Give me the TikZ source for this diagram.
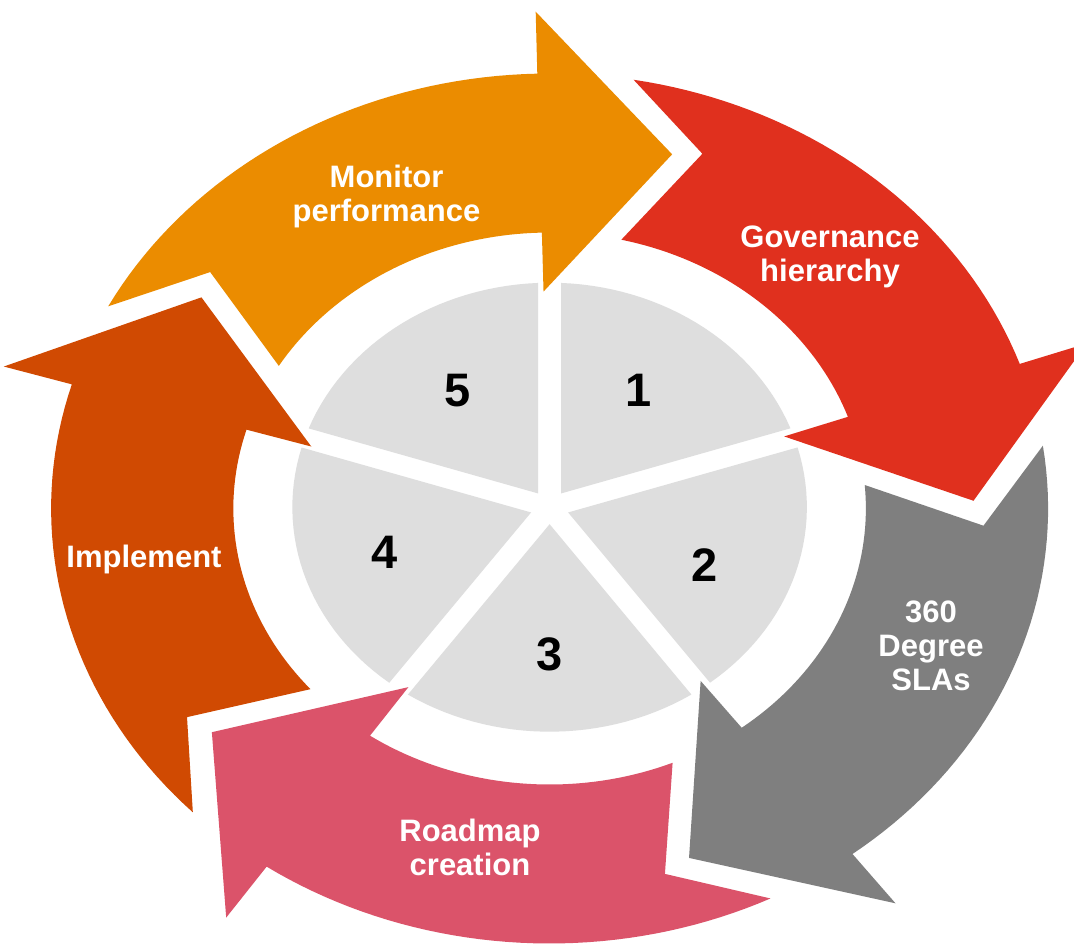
\documentclass[tikz,border=0pt]{standalone}
\usepackage{fontspec}
\newfontfamily\labelfont{Liberation Sans}

\definecolor{monitorcol}{HTML}{EB8C00}
\definecolor{governcol}{HTML}{E0301E}
\definecolor{slacol}{HTML}{7F7F7F}
\definecolor{roadmapcol}{HTML}{DB536A}
\definecolor{implementcol}{HTML}{D04A02}
\definecolor{piegray}{HTML}{DEDEDE}

% One curved arrow of the ring.
% #1 = angle of the head base, #2 = fill colour.
% The tail is notched to follow the head of the arrow before it.
\newcommand\ringarrow[2]{%
  \pgfmathsetmacro\aHead{#1}%
  \pgfmathsetmacro\aTip{#1-18.2}%
  \pgfmathsetmacro\aTo{#1+72-11.1}%
  \pgfmathsetmacro\aTn{#1+72-22.0}%
  \pgfmathsetmacro\aTi{#1+72-14.5}%
  \fill[#2] (\aTo:435)
    -- plot[domain=0:1, samples=40] ({\aTo+(\aHead-\aTo)*\x}:435)
    -- (\aHead:497) -- (\aTip:370) -- (\aHead:217)
    -- plot[domain=0:1, samples=40] ({\aHead+(\aTi-\aHead)*\x}:276)
    -- (\aTn:379) -- cycle;
}

% One slice of the central pie, #1 = angle of its leading gap.
\newcommand\piewedge[1]{%
  \fill[piegray] ({#1-36}:17)
    -- plot[domain=0:1, samples=30] ({#1-2.553-(72-5.106)*\x}:224.5)
    -- cycle;
}

\begin{document}
\begin{tikzpicture}[x=1pt, y=-1pt,
  steptext/.style={text=white, font=\labelfont\bfseries\fontsize{31}{34}\selectfont,
                   align=center, inner sep=0pt},
  numtext/.style={text=black, font=\labelfont\bfseries\fontsize{47}{47}\selectfont,
                  inner sep=0pt, anchor=base}]
  \useasboundingbox (0,0) rectangle (1074,946);
  \fill[white] (0,0) rectangle (1074,946);

  \coordinate (ringc) at (549.6,508.5);
  \coordinate (piec) at (549.6,507.2);

  % ring of five arrows, running clockwise
  \begin{scope}[shift={(ringc)}, x=1.146pt, y=1pt]
    \ringarrow{91.4}{monitorcol}
    \ringarrow{19.4}{governcol}
    \ringarrow{-52.6}{slacol}
    \ringarrow{-124.6}{roadmapcol}
    \ringarrow{-196.6}{implementcol}
  \end{scope}

  % central pie in five slices
  \begin{scope}[shift={(piec)}, x=1.146pt, y=1pt]
    \piewedge{90}
    \piewedge{18}
    \piewedge{-54}
    \piewedge{-126}
    \piewedge{162}
  \end{scope}

  % arrow captions
  \node[steptext] (monitor) at (386.5,196.4) {Monitor\\performance};
  \node[steptext] (govern) at (830,256.9) {Governance\\hierarchy};
  \node[steptext] (sla) at (931,646.2) {360\\Degree\\SLAs};
  \node[steptext, anchor=base] (implement) at (144,567.3) {Implement};
  \node[steptext] (roadmap) at (470,847.5) {Roadmap\\creation};

  % slice numbers
  \node[numtext] (n1) at (639,406.5) {1};
  \node[numtext] (n2) at (704.5,581.7) {2};
  \node[numtext] (n3) at (550,670) {3};
  \node[numtext] (n4) at (385,568.3) {4};
  \node[numtext] (n5) at (458,406.5) {5};
\end{tikzpicture}
\end{document}
